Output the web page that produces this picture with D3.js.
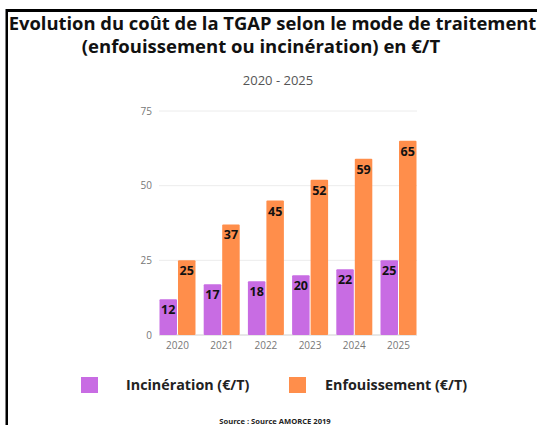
<!DOCTYPE html>
<meta charset="utf-8">
<head>
<script src="https://d3js.org/d3.v7.min.js"></script>
<style>
  body { margin: 0; background: #fff; }
  svg { display: block; font-family: "Open Sans", sans-serif; }
</style>
</head>
<body>
<div id="chart"></div>
<script>
// data
var years = ["2020", "2021", "2022", "2023", "2024", "2025"];
var series = ["Incinération (€/T)", "Enfouissement (€/T)"];
var incineration = [12, 17, 18, 20, 22, 25];
var enfouissement = [25, 37, 45, 52, 59, 65];
var yTicks = [0, 25, 50, 75];
var colors = ["#c86ce3", "#ff8e4b"];

var W = 537, H = 425;
var svg = d3.select("#chart").append("svg")
    .attr("width", W).attr("height", H);

// frame (top and left black edges)
svg.append("rect").attr("x", 6).attr("y", 9).attr("width", W).attr("height", 3).attr("fill", "#000");
svg.append("rect").attr("x", 5.5).attr("y", 9).attr("width", 2.5).attr("height", H).attr("fill", "#000");

// titles
svg.append("text").attr("x", 272.5).attr("y", 30)
    .attr("text-anchor", "middle")
    .style("font-size", "18.4px").style("font-weight", "bold").attr("fill", "#111")
    .text("Evolution du coût de la TGAP selon le mode de traitement");
svg.append("text").attr("x", 261).attr("y", 53)
    .attr("text-anchor", "middle")
    .style("font-size", "18.5px").style("font-weight", "bold").attr("fill", "#111")
    .text("(enfouissement ou incinération) en €/T");
svg.append("text").attr("x", 278).attr("y", 85)
    .attr("text-anchor", "middle")
    .style("font-size", "13px").attr("fill", "#555")
    .text("2020 - 2025");

// scales
var x0 = d3.scaleBand().domain(years).range([159, 417]).paddingInner(0.163).paddingOuter(0);
var x1 = d3.scaleBand().domain([0, 1]).range([0, x0.bandwidth()]).padding(0);
var y = d3.scaleLinear().domain([0, 75]).range([335, 111]);

// grid
svg.append("g").selectAll("line")
    .data(yTicks)
    .join("line")
    .attr("x1", 159).attr("x2", 417)
    .attr("y1", d => y(d)).attr("y2", d => y(d))
    .attr("stroke", d => d === 0 ? "#cfcfcf" : "#ececec")
    .attr("stroke-width", 1);

// y labels
svg.append("g").selectAll("text")
    .data(yTicks)
    .join("text")
    .attr("x", 152).attr("y", d => y(d) + 3.5)
    .attr("text-anchor", "end")
    .style("font-size", "10px").attr("fill", "#777")
    .text(d => d);

// x labels
svg.append("g").selectAll("text")
    .data(years)
    .join("text")
    .attr("x", d => x0(d) + x0.bandwidth() / 2).attr("y", 349)
    .attr("text-anchor", "middle")
    .style("font-size", "10px").attr("fill", "#777")
    .text(d => d);

// bars
var rows = [];
years.forEach((yr, i) => {
  rows.push({year: yr, s: 0, v: incineration[i]});
  rows.push({year: yr, s: 1, v: enfouissement[i]});
});

var bars = svg.append("g").selectAll("g")
    .data(rows)
    .join("g");

bars.append("rect")
    .attr("x", d => x0(d.year) + x1(d.s) + 0.5)
    .attr("y", d => y(d.v))
    .attr("width", x1.bandwidth() - 1)
    .attr("height", d => y(0) - y(d.v))
    .attr("rx", 1)
    .attr("fill", d => colors[d.s]);

bars.append("text")
    .attr("x", d => x0(d.year) + x1(d.s) + x1.bandwidth() / 2)
    .attr("y", d => y(d.v) + 15)
    .attr("text-anchor", "middle")
    .style("font-size", "12.5px").style("font-weight", "bold").attr("fill", "#111")
    .text(d => d.v);

// legend
var legX = [81, 289], legTextX = [126, 325];
var leg = svg.append("g").selectAll("g")
    .data(series)
    .join("g");
leg.append("rect")
    .attr("x", (d, i) => legX[i]).attr("y", 377)
    .attr("width", 17).attr("height", 16)
    .attr("fill", (d, i) => colors[i]);
leg.append("text")
    .attr("x", (d, i) => legTextX[i]).attr("y", 390)
    .style("font-size", "14.3px").style("font-weight", "bold").attr("fill", "#222")
    .text(d => d);

// source
svg.append("text").attr("x", 275).attr("y", 424)
    .attr("text-anchor", "middle")
    .style("font-size", "7.6px").style("font-weight", "bold").attr("fill", "#222")
    .text("Source : Source AMORCE 2019");
</script>
</body>
</html>
